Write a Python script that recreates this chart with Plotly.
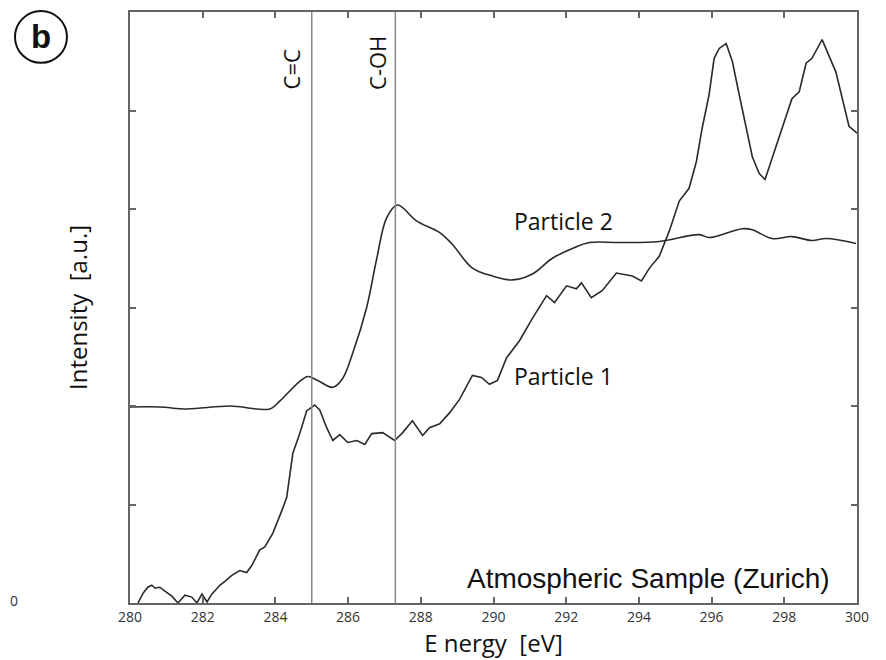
import plotly.graph_objects as go

# Particle 1 spectrum
p1_energy = [280.22, 280.36, 280.49, 280.60, 280.69, 280.82, 280.96, 281.15, 281.32, 281.51,
             281.70, 281.84, 281.98, 282.12, 282.25, 282.47, 282.61, 282.80, 283.02, 283.21,
             283.35, 283.57, 283.71, 283.93, 284.18, 284.31, 284.48, 284.67, 284.86, 285.08,
             285.22, 285.41, 285.58, 285.77, 285.99, 286.24, 286.46, 286.65, 286.95, 287.28,
             287.50, 287.77, 288.05, 288.24, 288.52, 288.79, 289.07, 289.42, 289.67, 289.89,
             290.11, 290.36, 290.71, 291.07, 291.46, 291.68, 292.01, 292.28, 292.42, 292.69,
             292.99, 293.38, 293.82, 294.07, 294.29, 294.56, 294.84, 295.11, 295.38, 295.58,
             295.74, 295.93, 296.07, 296.21, 296.40, 296.57, 296.76, 296.95, 297.12, 297.31,
             297.47, 297.66, 297.94, 298.21, 298.41, 298.60, 298.76, 299.04, 299.42, 299.59,
             299.78, 300.0]
p1_intensity = [0.00, 0.10, 0.16, 0.18, 0.15, 0.16, 0.12, 0.07, 0.00, 0.08,
                0.06, 0.00, 0.09, 0.01, 0.09, 0.18, 0.22, 0.28, 0.33, 0.31,
                0.38, 0.54, 0.57, 0.71, 0.94, 1.07, 1.52, 1.72, 1.95, 2.01,
                1.96, 1.78, 1.65, 1.71, 1.63, 1.65, 1.61, 1.72, 1.73, 1.65,
                1.73, 1.85, 1.70, 1.78, 1.82, 1.93, 2.07, 2.31, 2.29, 2.22,
                2.26, 2.49, 2.66, 2.89, 3.12, 3.05, 3.22, 3.19, 3.25, 3.10,
                3.17, 3.35, 3.32, 3.27, 3.40, 3.52, 3.78, 4.08, 4.21, 4.48,
                4.82, 5.16, 5.53, 5.63, 5.68, 5.50, 5.16, 4.82, 4.53, 4.36,
                4.30, 4.51, 4.81, 5.12, 5.19, 5.48, 5.53, 5.72, 5.39, 5.14,
                4.84, 4.77]

# Particle 2 spectrum
p2_energy = [280.0, 280.82, 281.57, 282.75, 283.85, 284.12, 284.67, 284.89, 285.16, 285.58,
             285.85, 286.13, 286.51, 286.79, 287.06, 287.36, 287.88, 288.52, 288.87, 289.42,
             289.97, 290.52, 291.07, 291.62, 292.17, 292.64, 293.46, 294.56, 295.66, 295.93,
             296.84, 297.12, 297.66, 298.21, 298.76, 299.15, 299.97]
p2_intensity = [1.99, 1.99, 1.97, 2.00, 1.97, 2.05, 2.25, 2.30, 2.26, 2.19,
                2.28, 2.54, 3.00, 3.50, 3.91, 4.04, 3.88, 3.76, 3.64, 3.40,
                3.32, 3.28, 3.34, 3.50, 3.60, 3.66, 3.66, 3.67, 3.74, 3.71,
                3.80, 3.79, 3.70, 3.72, 3.68, 3.70, 3.65]

x_ticks = [280, 282, 284, 286, 288, 290, 292, 294, 296, 298, 300]
y_ticks = [1, 2, 3, 4, 5]
marker_lines = [285.0, 287.3]
marker_labels = ["C=C", "C-OH"]
marker_label_x = [284.42, 286.8]

fig = go.Figure()
fig.add_trace(go.Scatter(x=p1_energy, y=p1_intensity, mode="lines",
                         line=dict(color="#2a2a2a", width=1.6), showlegend=False))
fig.add_trace(go.Scatter(x=p2_energy, y=p2_intensity, mode="lines", line_shape="spline",
                         line=dict(color="#2a2a2a", width=1.6), showlegend=False))

for xv in marker_lines:
    fig.add_shape(type="line", x0=xv, x1=xv, y0=0, y1=6, xref="x", yref="y",
                  line=dict(color="#888888", width=1.5))

for lbl, xv in zip(marker_labels, marker_label_x):
    fig.add_annotation(x=xv, y=0.865, xref="x", yref="paper", text=lbl, textangle=-90,
                       showarrow=False, xanchor="center", yanchor="bottom",
                       font=dict(family="Open Sans", size=22, color="#111111"))

fig.add_annotation(x=290.52, y=3.88, text="Particle 2", showarrow=False, xanchor="left",
                   font=dict(family="Open Sans", size=23, color="#111111"))
fig.add_annotation(x=290.52, y=2.30, text="Particle 1", showarrow=False, xanchor="left",
                   font=dict(family="Open Sans", size=23, color="#111111"))
fig.add_annotation(x=299.3, y=0.25, text="Atmospheric Sample (Zurich)", showarrow=False,
                   xanchor="right", font=dict(family="Liberation Sans", size=28, color="#111111"))

# panel label
fig.add_shape(type="circle", xref="paper", yref="paper", x0=-0.1582, x1=-0.0867,
              y0=0.914, y1=1.0017, line=dict(color="#111111", width=2))
fig.add_annotation(xref="paper", yref="paper", x=-0.1224, y=0.958, text="<b>b</b>",
                   showarrow=False, xanchor="center", yanchor="middle",
                   font=dict(family="Liberation Sans", size=33, color="#111111"))
fig.add_annotation(xref="paper", yref="paper", x=-0.1678, y=0.005, text="0", showarrow=False,
                   xanchor="left", yanchor="middle",
                   font=dict(family="Open Sans", size=14, color="#333333"))

axis_common = dict(showline=True, mirror="ticks", linecolor="#666666", linewidth=1.5,
                   ticks="inside", ticklen=6, tickcolor="#666666", tickwidth=1.5,
                   showgrid=False, zeroline=False)

fig.update_layout(
    width=878, height=652,
    margin=dict(l=122, r=29, t=2, b=57),
    paper_bgcolor="white", plot_bgcolor="white",
    xaxis=dict(range=[280, 300], tickvals=x_ticks, ticktext=[str(v) for v in x_ticks],
               tickfont=dict(family="Open Sans", size=14, color="#333333"),
               title=dict(text="E nergy&nbsp; [eV]", standoff=0,
                          font=dict(family="Open Sans", size=24, color="#111111")),
               **axis_common),
    yaxis=dict(range=[0, 6], tickvals=y_ticks, showticklabels=False,
               title=dict(text="Intensity&nbsp; [a.u.]", standoff=34,
                          font=dict(family="Open Sans", size=24, color="#111111")),
               **axis_common),
)

fig.write_html("out.html")
